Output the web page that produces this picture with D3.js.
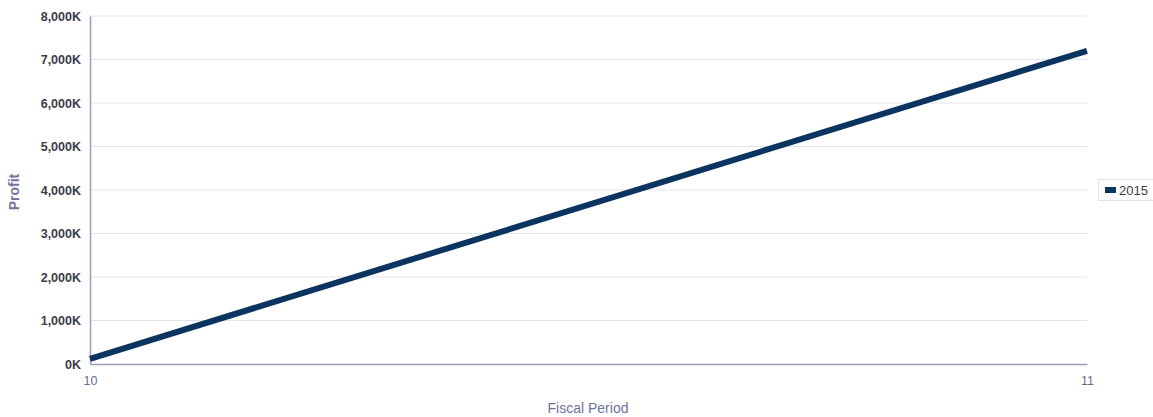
<!DOCTYPE html>
<html><head><meta charset="utf-8">
<script src="https://cdn.jsdelivr.net/npm/d3@7"></script>
<style>body{margin:0;background:#fff;}svg{display:block;font-family:"Liberation Sans",Arial,sans-serif;}</style>
</head><body>
<svg id="c" width="1153" height="417"></svg>
<script>
const categories = ["10", "11"];
const seriesName = "2015";
const profit = [120000, 7200000];
const yTicks = [0, 1000000, 2000000, 3000000, 4000000, 5000000, 6000000, 7000000, 8000000];

const svg = d3.select("#c");
const m = {l: 90, r: 1087, t: 16, b: 364};
const x = d3.scalePoint().domain(categories).range([m.l, m.r]);
const y = d3.scaleLinear().domain([0, 8000000]).range([m.b, m.t]);
const fmt = v => d3.format(",")(v / 1000) + "K";

// gridlines
svg.append("g").selectAll("line").data(yTicks.slice(1)).join("line")
  .attr("x1", m.l).attr("x2", m.r).attr("y1", d => y(d)).attr("y2", d => y(d))
  .attr("stroke", "#e3e3ec").attr("stroke-width", 1);

// y axis
const ya = svg.append("g").attr("transform", `translate(${m.l},0)`)
  .call(d3.axisLeft(y).tickValues(yTicks).tickFormat(fmt).tickSize(0).tickPadding(9));
ya.select(".domain").attr("stroke", "#9a9cbf").attr("stroke-width", 1.5);
ya.selectAll("text").attr("fill", "#3c3c4a").attr("font-size", 12.5).attr("font-weight", "bold");

// x axis
const xa = svg.append("g").attr("transform", `translate(0,${m.b})`)
  .call(d3.axisBottom(x).tickSize(0).tickPadding(12));
xa.select(".domain").attr("stroke", "#9a9cbf").attr("stroke-width", 1.5);
xa.selectAll("text").attr("fill", "#6d6890").attr("font-size", 12.5);

// axis titles
svg.append("text").attr("transform", "translate(19,192) rotate(-90)")
  .attr("text-anchor", "middle").attr("fill", "#7275a0").attr("font-size", 14).attr("font-weight", "bold").text("Profit");
svg.append("text").attr("x", 588).attr("y", 413).attr("text-anchor", "middle")
  .attr("fill", "#6e7399").attr("font-size", 14).text("Fiscal Period");

// line
const line = d3.line().x((d, i) => x(categories[i])).y(d => y(d));
svg.append("path").datum(profit).attr("d", line)
  .attr("fill", "none").attr("stroke", "#0b3460").attr("stroke-width", 6);

// legend
const lg = svg.append("g");
lg.append("rect").attr("x", 1098.5).attr("y", 179.5).attr("width", 60).attr("height", 21)
  .attr("fill", "#fff").attr("stroke", "#e3e3ea");
lg.append("rect").attr("x", 1105).attr("y", 187).attr("width", 11).attr("height", 6).attr("fill", "#0b3460");
lg.append("text").attr("x", 1119).attr("y", 195).attr("fill", "#3c3c4a").attr("font-size", 13).text(seriesName);
</script>
</body></html>
